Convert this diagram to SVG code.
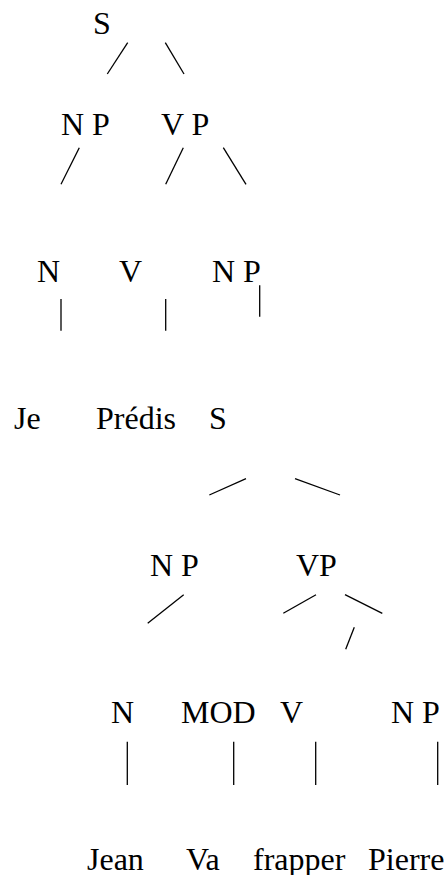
<svg xmlns="http://www.w3.org/2000/svg" width="447" height="875" viewBox="0 0 447 875">
<style>
text{font-family:"Liberation Serif","Times New Roman",serif;font-size:32px;fill:#000}
.e line{stroke:#000;stroke-width:1.3;stroke-linecap:butt}
</style>
<rect width="447" height="875" fill="#fff"/>
<g class="e" id="connectors">
<line x1="127.7" y1="42.7" x2="107.3" y2="74"/>
<line x1="165.3" y1="42.7" x2="184" y2="74"/>
<line x1="79.3" y1="147.7" x2="61" y2="184.3"/>
<line x1="183.3" y1="147.7" x2="165.7" y2="184.3"/>
<line x1="223.3" y1="147.7" x2="246" y2="184.3"/>
<line x1="61" y1="299" x2="61" y2="330.7"/>
<line x1="165.7" y1="299" x2="165.7" y2="330.7"/>
<line x1="259.7" y1="285.3" x2="259.7" y2="316.7"/>
<line x1="246" y1="478.7" x2="209.3" y2="495"/>
<line x1="295" y1="478.7" x2="340" y2="495"/>
<line x1="183.7" y1="594.7" x2="147.7" y2="623.3"/>
<line x1="316" y1="594.7" x2="283.3" y2="613.3"/>
<line x1="345" y1="594.7" x2="382.3" y2="613.3"/>
<line x1="354.3" y1="627.3" x2="345.7" y2="649.3"/>
<line x1="127.3" y1="741.7" x2="127.3" y2="785"/>
<line x1="233.7" y1="741.7" x2="233.7" y2="785"/>
<line x1="315.7" y1="741.7" x2="315.7" y2="785"/>
<line x1="437.7" y1="741.7" x2="437.7" y2="785"/>
</g>
<g id="n-S1"><text x="93" y="34">S</text></g>
<g id="n-NP1"><text x="61" y="135">N P</text></g>
<g id="n-VP1"><text x="161" y="135">V P</text></g>
<g id="n-N1"><text x="37" y="282">N</text></g>
<g id="n-V1"><text x="119" y="282">V</text></g>
<g id="n-NP2"><text x="212" y="282">N P</text></g>
<g id="n-Je"><text x="14" y="429">Je</text></g>
<g id="n-Predis"><text x="96" y="429">Prédis</text></g>
<g id="n-S2"><text x="209" y="429">S</text></g>
<g id="n-NP3"><text x="150" y="576">N P</text></g>
<g id="n-VP2"><text x="296" y="576">VP</text></g>
<g id="n-N2"><text x="111" y="723">N</text></g>
<g id="n-MOD"><text x="181" y="723">MOD</text></g>
<g id="n-V2"><text x="280" y="723">V</text></g>
<g id="n-NP4"><text x="391" y="723">N P</text></g>
<g id="n-Jean"><text x="87" y="870">Jean</text></g>
<g id="n-Va"><text x="186" y="870">Va</text></g>
<g id="n-frapper"><text x="253" y="870">frapper</text></g>
<g id="n-Pierre"><text x="368" y="870">Pierre</text></g>
</svg>
